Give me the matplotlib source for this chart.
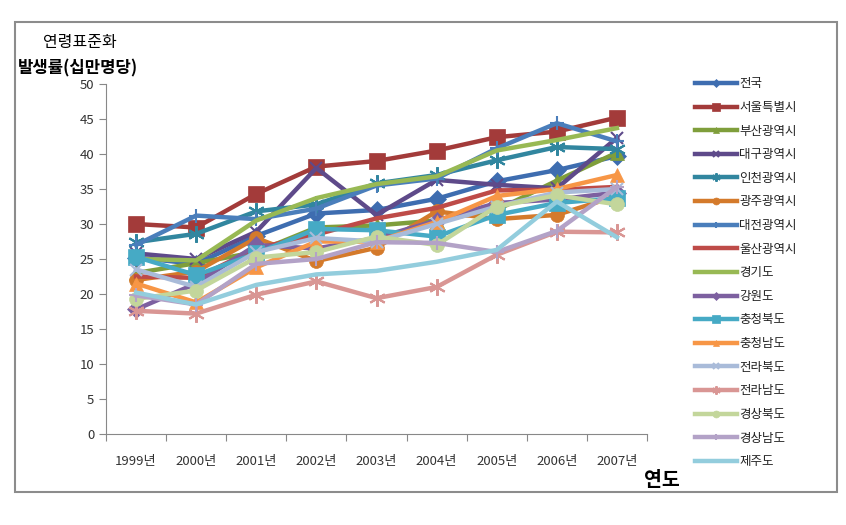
import numpy as np
import matplotlib.pyplot as plt
from matplotlib.patches import Rectangle

plt.rcParams['font.family'] = ['Noto Sans CJK KR', 'DejaVu Sans']

years = ['1999년', '2000년', '2001년', '2002년', '2003년', '2004년', '2005년', '2006년', '2007년']

regions = ['전국', '서울특별시', '부산광역시', '대구광역시', '인천광역시', '광주광역시',
           '대전광역시', '울산광역시', '경기도', '강원도', '충청북도', '충청남도',
           '전라북도', '전라남도', '경상북도', '경상남도', '제주도']

nation = [25.2, 24.3, 28.3, 31.5, 32.0, 33.6, 36.1, 37.7, 39.7]
seoul = [30.0, 29.5, 34.3, 38.2, 39.0, 40.5, 42.4, 43.2, 45.2]
busan = [23.0, 24.4, 26.0, 29.5, 29.8, 30.5, 32.0, 36.2, 40.2]
daegu = [25.8, 25.0, 28.9, 38.0, 31.3, 36.3, 35.6, 35.1, 42.3]
incheon = [27.4, 28.6, 31.8, 32.8, 35.8, 37.0, 39.1, 41.0, 40.7]
gwangju = [22.0, 23.2, 28.0, 24.7, 26.6, 31.8, 30.7, 31.3, 34.0]
daejeon = [27.0, 31.2, 30.7, 32.2, 35.5, 36.5, 40.8, 44.4, 41.8]
ulsan = [22.5, 22.3, 26.5, 28.5, 30.8, 32.3, 34.8, 34.9, 35.3]
gyeonggi = [25.0, 24.8, 30.5, 33.7, 35.7, 36.8, 40.5, 42.0, 43.7]
gangwon = [17.8, 21.5, 27.0, 26.5, 28.0, 30.5, 33.0, 33.5, 34.5]
chungbuk = [25.3, 22.7, 25.8, 29.3, 29.1, 28.2, 31.3, 33.0, 33.7]
chungnam = [21.5, 18.8, 23.8, 27.5, 27.5, 30.3, 34.0, 35.0, 37.0]
jeonbuk = [23.5, 21.0, 26.0, 28.0, 27.5, 30.0, 32.5, 34.5, 35.0]
jeonnam = [17.6, 17.2, 19.9, 21.8, 19.4, 21.0, 25.6, 28.9, 28.8]
gyeongbuk = [19.3, 20.5, 25.2, 26.0, 28.2, 27.0, 32.5, 34.1, 32.8]
gyeongnam = [19.8, 18.5, 24.3, 25.0, 27.4, 27.3, 26.0, 29.0, 35.3]
jeju = [20.2, 18.5, 21.3, 22.8, 23.3, 24.6, 26.3, 33.2, 28.1]

series = [nation, seoul, busan, daegu, incheon, gwangju, daejeon, ulsan, gyeonggi,
          gangwon, chungbuk, chungnam, jeonbuk, jeonnam, gyeongbuk, gyeongnam, jeju]

colors = ['#3E6DB0', '#A33B3A', '#7F9E3B', '#5E4A8A', '#31869F', '#D47A2B',
          '#4A7EBB', '#BE4B48', '#98B954', '#7D60A0', '#46AAC5', '#F79646',
          '#A9BBD9', '#D99694', '#C3D69B', '#B3A2C7', '#93CDDD']
star = (6, 2, 0)
markers = ['D', 's', '^', 'x', star, 'o', '+', None, None,
           'D', 's', '^', 'x', star, 'o', '+', None]
msizes = [9, 11, 10, 9, 12, 10, 10, 0, 0, 9, 11, 10, 9, 12, 10, 10, 0]

fig = plt.figure(figsize=(8.46, 5.25), dpi=100)
ax = fig.add_axes([106 / 846, 91 / 525, 541 / 846, 350 / 525])

x = np.arange(len(years))
for name, vals, c, m, ms in zip(regions, series, colors, markers, msizes):
    ax.plot(x, vals, color=c, lw=3.2, marker=m, markersize=ms,
            markeredgewidth=1.5 if m in ('x', '+', star) else 0.5,
            markeredgecolor=c, markerfacecolor=c, label=name)

ax.set_xlim(-0.5, len(years) - 0.5)
ax.set_ylim(0, 50)
ax.set_yticks(range(0, 51, 5))
ax.set_xticks(np.arange(-0.5, len(years), 1.0))
ax.set_xticklabels([])
ax.set_xticks(x, minor=True)
ax.set_xticklabels(years, minor=True)
ax.tick_params(axis='x', which='major', length=5, direction='out', color='#888888')
ax.tick_params(axis='x', which='minor', length=0, pad=15, labelsize=9.5, labelcolor='#333333')
ax.tick_params(axis='y', length=5, color='#888888', labelsize=9.5, labelcolor='#333333')
for s in ['top', 'right']:
    ax.spines[s].set_visible(False)
for s in ['left', 'bottom']:
    ax.spines[s].set_color('#888888')

leg = ax.legend(loc='upper left', bbox_to_anchor=(684 / 846, 1 - 66 / 525),
                bbox_transform=fig.transFigure, frameon=False, fontsize=9,
                handlelength=3.3, labelspacing=0.85, handletextpad=0.2,
                markerscale=0.5)
for t in leg.get_texts():
    t.set_color('#222222')

fig.text(80 / 846, 1 - 42 / 525, '연령표준화', ha='center', va='center', fontsize=11.5)
fig.text(78 / 846, 1 - 68 / 525, '발생률(십만명당)', ha='center', va='center',
         fontsize=12, fontweight='bold')
fig.text(662 / 846, 1 - 480 / 525, '연도', ha='center', va='center',
         fontsize=14, fontweight='bold')

fig.patches.append(Rectangle((15 / 846, 1 - 492 / 525), 822 / 846, 470 / 525,
                             transform=fig.transFigure, fill=False,
                             edgecolor='#8c8c8c', lw=1.5))

fig.savefig('out.png', dpi=100)
